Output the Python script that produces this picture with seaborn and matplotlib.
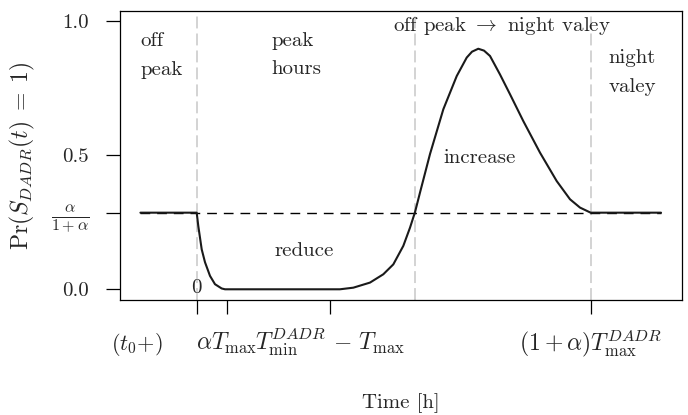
import numpy as np
import pandas as pd
import matplotlib
matplotlib.use("Agg")
import matplotlib.pyplot as plt
import matplotlib.transforms as mtransforms
import seaborn as sns

# ---- data ----
alpha = 0.4
t_hours = [-2.0, 0.0, 0.057, 0.178, 0.295, 0.473, 0.650, 0.888, 1.006, 1.11,
           5.09, 5.565, 6.158, 6.631, 6.987, 7.342, 7.580, 7.758, 7.935, 8.291,
           8.764, 9.240, 9.595, 9.783, 10.007, 10.21, 10.423, 10.778, 11.134,
           11.606, 12.200, 12.793, 13.266, 13.621, 14.0, 16.5]
prob = [0.286, 0.286, 0.236, 0.149, 0.101, 0.050, 0.019, 0.003, 0.0, 0.0,
        0.0, 0.006, 0.025, 0.056, 0.093, 0.162, 0.230, 0.288, 0.361, 0.505,
        0.672, 0.796, 0.865, 0.887, 0.898, 0.891, 0.871, 0.802, 0.728,
        0.628, 0.510, 0.404, 0.336, 0.305, 0.286, 0.286]
vlines_x = [0.0, 7.76, 14.0]
xtick_pos = [0.0, 1.08, 4.74, 14.0]
xtick_labels = ["", r"$\alpha T_{\max}$", r"$T_{\min}^{DADR}\,-\,T_{\max}$",
                r"$(1+\alpha)T_{\max}^{DADR}$"]
ytick_pos = [0.0, alpha / (1 + alpha), 0.5, 1.0]
ytick_labels = ["0.0", r"$\frac{\alpha}{1+\alpha}$", "0.5", "1.0"]

df = pd.DataFrame({"t": t_hours, "p": prob})

sns.set_style("white")
plt.rcParams["font.family"] = ["cmr10", "DejaVu Serif"]
plt.rcParams["mathtext.fontset"] = "cm"
plt.rcParams["axes.formatter.use_mathtext"] = True
FS = 15

fig = plt.figure(figsize=(6.88, 4.15), dpi=100)
ax = fig.add_axes([0.1737, 0.2771, 0.9913 - 0.1737, 0.9742 - 0.2771])

for xv in vlines_x:
    ax.axvline(xv, color="#d0d0d0", lw=1.3, dashes=(6.6, 2.8), zorder=1)
ax.plot([t_hours[0], t_hours[-1]], [alpha / (1 + alpha)] * 2, color="black",
        lw=1.0, dashes=(7, 5), zorder=2)

sns.lineplot(data=df, x="t", y="p", ax=ax, color="#1a1a1a", lw=1.5,
             sort=False, estimator=None, zorder=3)

ax.set_xlim(-2.743, 17.246)
ax.set_ylim(-0.04, 1.04)

for s in ax.spines.values():
    s.set_visible(True)
    s.set_color("black")
    s.set_linewidth(0.9)

ax.set_xticks(xtick_pos)
ax.set_xticklabels(xtick_labels, fontsize=17)
ax.set_yticks(ytick_pos)
ax.set_yticklabels(ytick_labels, fontsize=FS)
ax.get_yticklabels()[1].set_fontsize(16.5)
ax.tick_params(axis="both", direction="out", length=10, width=0.9,
               color="black", bottom=True, left=True)
ax.tick_params(axis="x", pad=26)
ax.tick_params(axis="y", pad=12)
for lab in ax.get_xticklabels():
    lab.set_va("baseline")

ax.set_xlabel("Time [h]", fontsize=FS, va="center")
ax.xaxis.set_label_coords(0.5, -0.356)
ax.set_ylabel(r"$\mathrm{Pr}(S_{DADR}(t)\;=\;1)$", fontsize=17, va="center")
ax.yaxis.set_label_coords(-0.173, 0.5)

trans = mtransforms.blended_transform_factory(ax.transData, ax.transAxes)
ax.text(-2.12, -0.173, r"$(t_0{+})$", transform=trans, ha="center",
        va="baseline", fontsize=16)

kw = dict(fontsize=FS, va="baseline", ha="left")
ax.text(-1.99, 0.909, "off", **kw)
ax.text(-1.99, 0.799, "peak", **kw)
ax.text(2.665, 0.909, "peak", **kw)
ax.text(2.665, 0.802, "hours", **kw)
ax.text(6.976, 0.964, r"off peak $\rightarrow$ night valey", **kw)
ax.text(14.63, 0.846, "night", **kw)
ax.text(14.63, 0.737, "valey", **kw)
ax.text(8.753, 0.473, "increase", **kw)
ax.text(2.78, 0.124, "reduce", **kw)
ax.text(0.0, 0.004, "0", fontsize=FS, ha="center", va="center")

fig.savefig("out.png", dpi=100)
